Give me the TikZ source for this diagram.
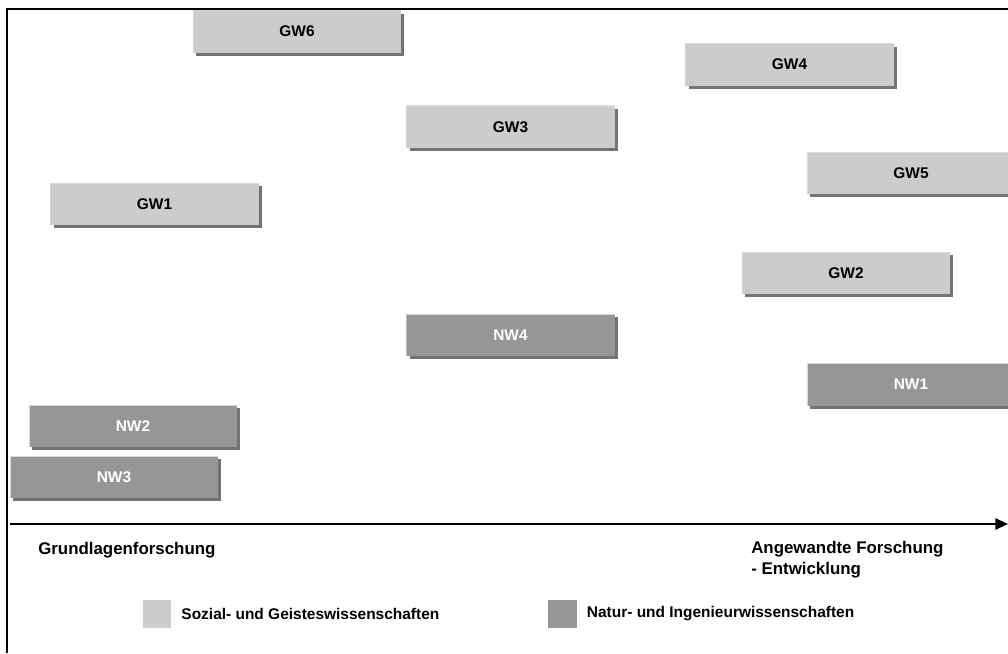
\documentclass[tikz,border=0pt]{standalone}
\usepackage{fontspec}
\setmainfont{Liberation Sans}
\usetikzlibrary{positioning,shadows,arrows.meta}

\definecolor{gwgray}{HTML}{CCCCCC}
\definecolor{nwgray}{HTML}{969696}

\begin{document}
\begin{tikzpicture}[x=0.025cm,y=-0.025cm,
		font=\fontsize{11}{13}\selectfont\bfseries,
		field/.style={minimum width=5.2cm, minimum height=1.05cm, inner sep=0pt,
			drop shadow={shadow xshift=0.08cm, shadow yshift=-0.08cm, fill=black!55, opacity=1},
			path picture={\draw[white!85!black, line width=1.2pt]
				(path picture bounding box.south west) -- (path picture bounding box.north west)
				-- (path picture bounding box.north east);}},
		gw/.style={field, fill=gwgray, text=black},
		nw/.style={field, fill=nwgray, text=white},
		axislabel/.style={font=\fontsize{12}{15}\selectfont\bfseries},
		legbox/.style={minimum size=0.72cm, inner sep=0pt}]
		\useasboundingbox (0,0) rectangle (1008,653);
		
		% Draw the frame
		\draw[line width=1.4pt] (7,653) -- (7,9) -- (1008,9);
		
		% Place the fields
		\foreach \name/\x/\y/\kind in {GW6/297/31.5/gw, GW4/789.5/64.5/gw, GW3/510.5/127/gw,
			GW5/911/173/gw, GW1/154.5/204/gw, GW2/846/273/gw, NW4/510.5/335/nw,
			NW1/911/384.5/nw, NW2/133/426/nw, NW3/114/477/nw} {
			\node[\kind] (\name) at (\x,\y) {\name};
		}
		
		% Draw the axis
		\coordinate (axisstart) at (10,524);
		\coordinate (axisend) at (1008,524);
		\draw[line width=1.4pt, -{Triangle[length=9pt, width=8pt]}] (axisstart) -- (axisend);
		
		% Axis labels
		\node[axislabel, anchor=west, inner sep=0pt] (basic) at (38,550) {Grundlagenforschung};
		\node[axislabel, anchor=north west, align=left, inner sep=0pt] (applied) at (751,541)
			{Angewandte Forschung\\- Entwicklung};
		
		% Legend
		\node[legbox, fill=gwgray] (legsoz) at (157,614) {};
		\node[right=0.12cm of legsoz] (legsoztext) {Sozial- und Geisteswissenschaften};
		\node[legbox, fill=nwgray] (legnat) at (562.5,614) {};
		\node[right=0.12cm of legnat] (legnattext) {Natur- und Ingenieurwissenschaften};
	\end{tikzpicture}
\end{document}
